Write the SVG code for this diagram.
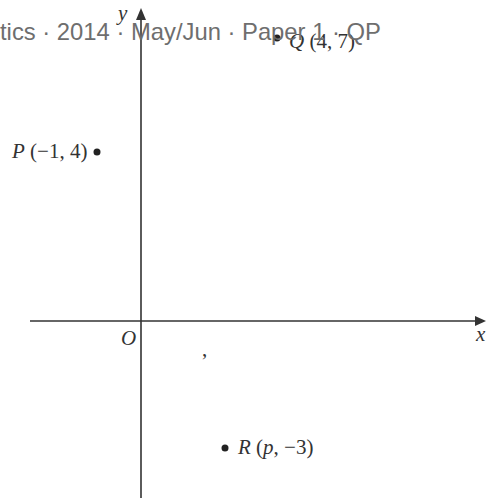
<svg xmlns="http://www.w3.org/2000/svg" width="489" height="503" viewBox="0 0 489 503">
<defs>
<style>
.lbl{font-family:"Liberation Serif","Times New Roman",serif;font-size:21px;fill:#333}
.it{font-style:italic}
.ax{stroke:#333;stroke-width:1.6;fill:none}
.dot{fill:#222}
.hdr{font-family:"Liberation Sans",Arial,sans-serif;font-size:23.8px;fill:#6e6e6e}
</style>
</defs>
<rect width="489" height="503" fill="#fff"/>
<g id="connectors">
<line class="ax" x1="30" y1="321" x2="478" y2="321"/>
<path d="M475,316 L486,321 L475,326 z" fill="#333"/>
<line class="ax" x1="141" y1="498" x2="141" y2="16"/>
<path d="M136,20 L141,8 L146,20 z" fill="#333"/>
</g>
<g id="axis-labels">
<text class="lbl it" x="118" y="20" font-size="15">y</text>
<text class="lbl it" x="476" y="341" font-size="15">x</text>
<text class="lbl it" x="121" y="345" font-size="19">O</text>
<text class="lbl" x="202" y="356" font-size="16">,</text>
</g>
<g id="node-P">
<circle class="dot" cx="97" cy="152" r="3.5"/>
<text class="lbl" x="12" y="158"><tspan class="it">P</tspan> (−1, 4)</text>
</g>
<g id="node-Q">
<circle class="dot" cx="277" cy="38" r="3.5"/>
<text class="lbl" x="289" y="48"><tspan class="it">Q</tspan> (4, 7)</text>
</g>
<g id="node-R">
<circle class="dot" cx="225" cy="448" r="3.5"/>
<text class="lbl" x="238" y="454"><tspan class="it">R</tspan> (<tspan class="it">p</tspan>, −3)</text>
</g>
<g id="header">
<text class="hdr" x="0" y="40">tics · 2014 · May/Jun · Paper 1 · QP</text>
</g>
</svg>
